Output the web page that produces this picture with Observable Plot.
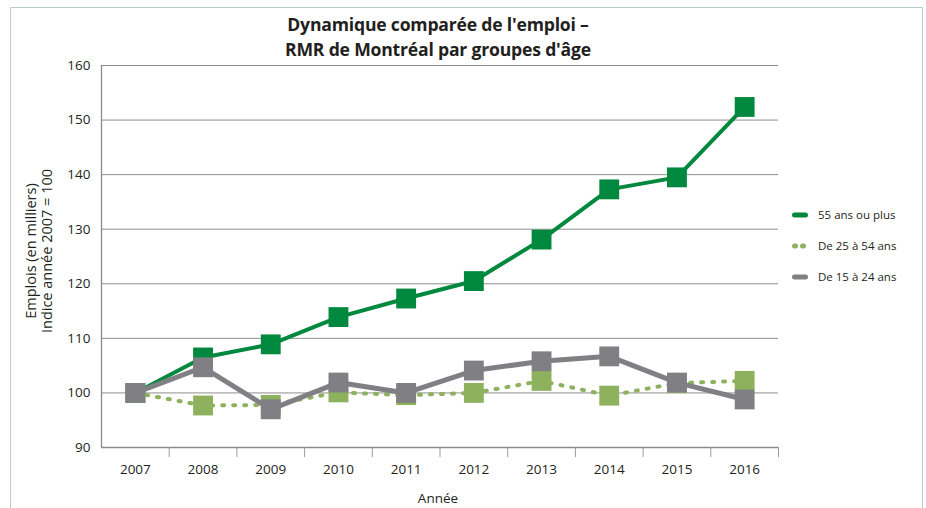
<!DOCTYPE html>
<html>
<head>
<meta charset="utf-8">
<script src="https://cdn.jsdelivr.net/npm/d3@7"></script>
<script src="https://cdn.jsdelivr.net/npm/@observablehq/plot@0.6"></script>
<style>
  body { margin: 0; background: #fff; font-family: "Open Sans", sans-serif; color: #231f20; }
  #wrap { position: relative; width: 926px; height: 508px; overflow: hidden; }
  #frame { position: absolute; left: 10px; top: 7px; width: 911px; height: 600px; border: 1.5px solid #b8cfc3; }
  #title { position: absolute; left: 0; width: 876px; top: 12px; text-align: center; font-weight: 700; font-size: 17.6px; line-height: 25px; letter-spacing: -0.2px; }
  #chart { position: absolute; left: 0; top: 0; }
  #ylab { position: absolute; left: 39px; top: 251px; width: 0; height: 0; }
  #ylab div { position: absolute; transform: translate(-50%, -50%) rotate(-90deg); white-space: nowrap; text-align: center; font-size: 14.5px; line-height: 16px; }
  #xlab { position: absolute; left: 438px; top: 489px; transform: translateX(-50%); font-size: 13.5px; }
  #legend { position: absolute; left: 792px; top: 199px; font-size: 11.5px; }
  .li { display: flex; align-items: center; height: 31px; }
  .li svg { margin-right: 10px; }
</style>
</head>
<body>
<div id="wrap">
  <div id="frame"></div>
  <div id="title">Dynamique comparée de l'emploi –<br>RMR de Montréal par groupes d'âge</div>
  <div id="chart"></div>
  <div id="ylab"><div>Emplois (en milliers)<br>Indice année 2007 = 100</div></div>
  <div id="xlab">Année</div>
  <div id="legend"></div>
</div>
<script>
const years = [2007, 2008, 2009, 2010, 2011, 2012, 2013, 2014, 2015, 2016];
const seriesNames = ["55 ans ou plus", "De 25 à 54 ans", "De 15 à 24 ans"];
const age55plus = [100, 106.5, 108.9, 113.9, 117.3, 120.5, 128.1, 137.3, 139.5, 152.4];
const age25to54 = [100, 97.7, 97.8, 100.1, 99.6, 100.0, 102.2, 99.5, 101.8, 102.2];
const age15to24 = [100, 104.7, 97.0, 101.9, 100.0, 104.1, 105.8, 106.7, 101.9, 98.8];
const yTicks = [90, 100, 110, 120, 130, 140, 150, 160];

const colors = ["#00883e", "#8db15c", "#808084"];
const widths = [4, 4, 5];
const dashes = [null, "2,9", null];

const seriesValues = [age55plus, age25to54, age15to24];
const data = seriesNames.map((name, i) => years.map((year, j) => ({series: name, year, value: seriesValues[i][j]})));
const boundaries = years.map(y => y + 0.5);

const marks = [
  Plot.gridY({ticks: yTicks.filter(d => d > 90), stroke: "#8e8e8e", strokeOpacity: 1, strokeWidth: 1}),
  Plot.ruleY([90], {stroke: "#8a8a8a", strokeWidth: 1.3}),
  Plot.ruleX([2006.5], {stroke: "#8a8a8a", strokeWidth: 1.3}),
  Plot.axisY({ticks: yTicks, tickSize: 0, tickPadding: 11, label: null, fontSize: 13.5, fill: "#231f20"}),
  Plot.axisX({ticks: years, tickSize: 0, tickPadding: 17, tickFormat: d => String(d), label: null, fontSize: 13.5, fill: "#231f20"}),
  Plot.axisX({ticks: boundaries, tickSize: 10, tickFormat: () => "", label: null, stroke: "#9a9a9a"})
];
data.forEach((d, i) => {
  marks.push(Plot.line(d, {x: "year", y: "value", stroke: colors[i], strokeWidth: widths[i], strokeDasharray: dashes[i], strokeLinecap: "round", strokeLinejoin: "round"}));
  marks.push(Plot.dot(d, {x: "year", y: "value", symbol: "square", r: 11.2, fill: colors[i], stroke: "none"}));
});

const chart = Plot.plot({
  width: 926, height: 508,
  marginLeft: 101, marginRight: 148, marginTop: 65, marginBottom: 61,
  x: {domain: [2006.5, 2016.5]},
  y: {domain: [90, 160]},
  style: {fontFamily: "'Open Sans', sans-serif", fontSize: 13.5, background: "transparent", color: "#231f20"},
  marks
});
document.getElementById("chart").append(chart);

const legend = document.getElementById("legend");
seriesNames.forEach((name, i) => {
  const row = document.createElement("div");
  row.className = "li";
  const dash = i === 1 ? `stroke-dasharray="1,7"` : "";
  row.innerHTML = `<svg width="16" height="8"><line x1="2.5" x2="${i === 1 ? 14 : 13.5}" y1="4" y2="4" stroke="${colors[i]}" stroke-width="5" stroke-linecap="round" ${dash}></line></svg><span>${name}</span>`;
  legend.append(row);
});
</script>
</body>
</html>
